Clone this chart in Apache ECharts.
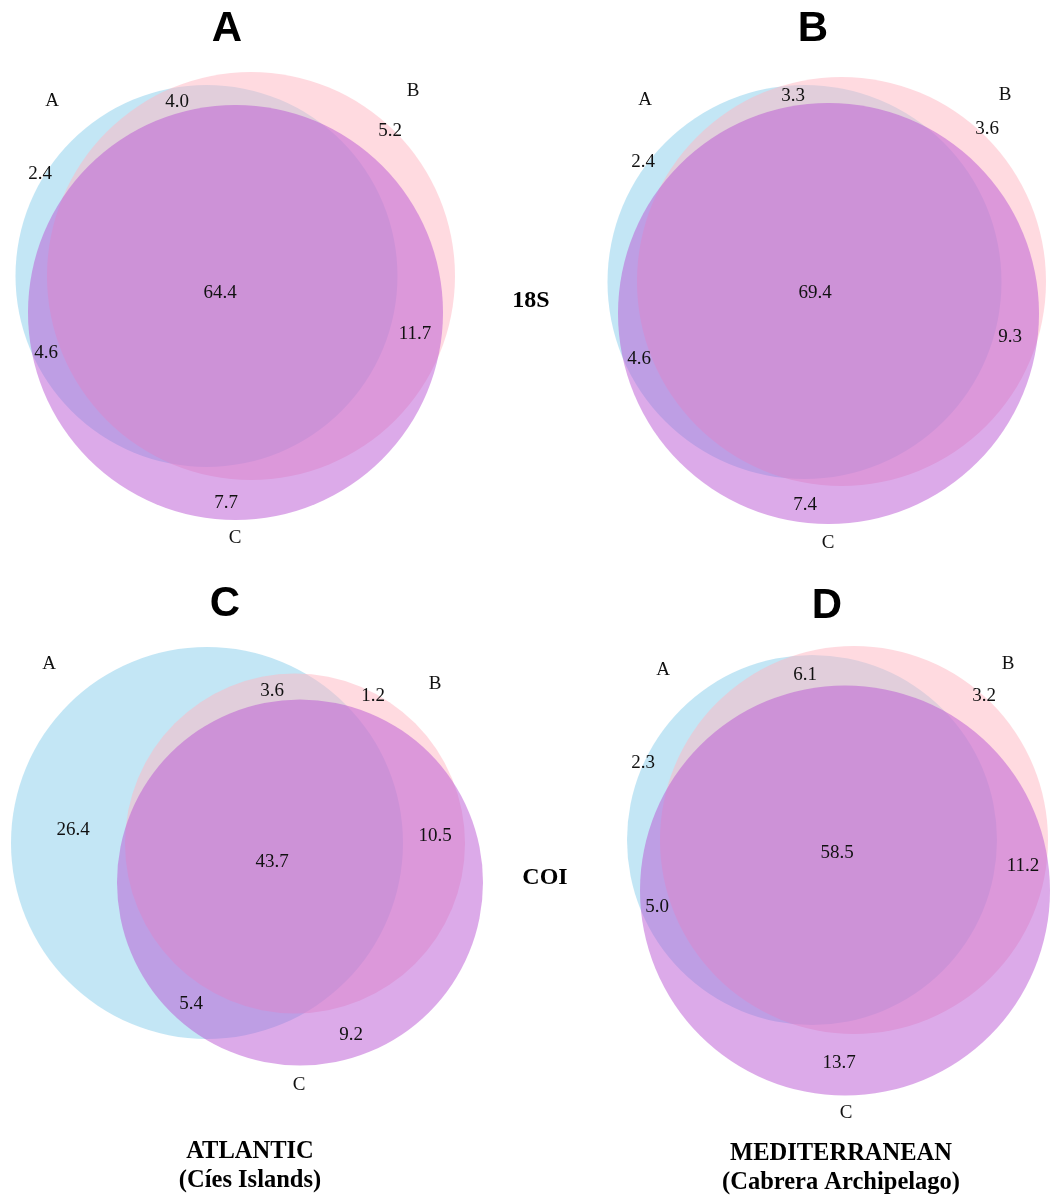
<!DOCTYPE html>
<html>
<head>
<meta charset="utf-8">
<script src="https://cdn.jsdelivr.net/npm/echarts@6/dist/echarts.min.js"></script>
<style>
html,body{margin:0;padding:0;background:#fff;}
#chart{width:1053px;height:1197px;}
</style>
</head>
<body>
<div id="chart"></div>
<script>
// ---------------- DATA ----------------
const panelTitles = ['A', 'B', 'C', 'D'];
const setNames = ['A', 'B', 'C'];
// region order: A only, B only, C only, A∩B, A∩C, B∩C, A∩B∩C  (percent)
const regionKeys = ['A', 'B', 'C', 'AB', 'AC', 'BC', 'ABC'];
const values18S_Atlantic = [2.4, 5.2, 7.7, 4.0, 4.6, 11.7, 64.4];
const values18S_Med      = [2.4, 3.6, 7.4, 3.3, 4.6, 9.3, 69.4];
const valuesCOI_Atlantic = [26.4, 1.2, 9.2, 3.6, 5.4, 10.5, 43.7];
const valuesCOI_Med      = [2.3, 3.2, 13.7, 6.1, 5.0, 11.2, 58.5];
const markerLabels = ['18S', 'COI'];
const regionTitles = [['ATLANTIC', '(Cíes Islands)'], ['MEDITERRANEAN', '(Cabrera Archipelago)']];

// ---------------- LAYOUT (page frame units) ----------------
const panelValues = [values18S_Atlantic, values18S_Med, valuesCOI_Atlantic, valuesCOI_Med];
// circle geometry per panel: [cx, cy, r] for sets A, B, C
const circleLayout = [
  [[206.5, 276, 191], [251, 276, 204], [235.5, 312.5, 207.5]],
  [[804.5, 282, 197], [841.5, 281.5, 204.5], [828.5, 313.5, 210.5]],
  [[207, 843, 196], [295, 843.5, 170], [300, 882.5, 183]],
  [[812, 840, 185], [854, 840, 194], [845, 890.5, 205]]
];
// set name label positions A, B, C
const setLabelPos = [
  [[52, 101], [413, 91], [235, 538]],
  [[645, 100], [1005, 95], [828, 543]],
  [[49, 664], [435, 684], [299, 1085]],
  [[663, 670], [1008, 664], [846, 1113]]
];
// region value label positions, same order as regionKeys
const regionLabelPos = [
  [[40, 174], [390, 131], [226, 503], [177, 102], [46, 353], [415, 334], [220, 293]],
  [[643, 162], [987, 129], [805, 505], [793, 96], [639, 359], [1010, 337], [815, 293]],
  [[73, 830], [373, 696], [351, 1035], [272, 691], [191, 1004], [435, 836], [272, 862]],
  [[643, 763], [984, 696], [839, 1063], [805, 675], [657, 907], [1023, 866], [837, 853]]
];
const titlePos = [[227, 29], [813, 29], [225, 604], [827, 606]];
const markerPos = [[531, 301], [545, 878]];
const regionTitlePos = [[250, 1166], [841, 1168]];
const setColors = ['rgba(135,206,235,0.5)', 'rgba(255,182,193,0.5)', 'rgba(186,85,211,0.5)'];

// text styles
const serif = '"Liberation Serif", "Times New Roman", serif';
const textStyles = {
  value: { font: '19px ' + serif, fill: '#111111', lh: 22 },
  set: { font: '19px ' + serif, fill: '#111111', lh: 22 },
  title: { font: 'bold 42px "Liberation Sans", Arial, sans-serif', fill: '#000000', lh: 46 },
  marker: { font: 'bold 24px ' + serif, fill: '#000000', lh: 28 },
  region: { font: 'bold 24.5px ' + serif, fill: '#000000', lh: 29 }
};

// ---------------- BUILD ----------------
const circleData = [];
circleLayout.forEach((panel, p) => {
  panel.forEach((c, s) => circleData.push([c[0], c[1], c[2], s]));
});
const textItems = []; // [x, y, text, styleKey]
panelValues.forEach((vals, p) => {
  vals.forEach((v, i) => {
    const pos = regionLabelPos[p][i];
    textItems.push([pos[0], pos[1], v.toFixed(1), 'value']);
  });
});
setLabelPos.forEach((panel) => {
  panel.forEach((pos, s) => textItems.push([pos[0], pos[1], setNames[s], 'set']));
});
panelTitles.forEach((t, i) => textItems.push([titlePos[i][0], titlePos[i][1], t, 'title']));
markerLabels.forEach((t, i) => textItems.push([markerPos[i][0], markerPos[i][1], t, 'marker']));
regionTitles.forEach((t, i) => textItems.push([regionTitlePos[i][0], regionTitlePos[i][1], t.join('\n'), 'region']));

const chart = echarts.init(document.getElementById('chart'), null, { renderer: 'canvas' });
chart.setOption({
  backgroundColor: '#ffffff',
  animation: false,
  grid: { left: 0, right: 0, top: 0, bottom: 0 },
  xAxis: { type: 'value', min: 0, max: 1053, show: false },
  yAxis: { type: 'value', min: 0, max: 1197, inverse: true, show: false },
  series: [
    {
      type: 'custom',
      coordinateSystem: 'cartesian2d',
      data: circleData,
      silent: true,
      renderItem: function (params, api) {
        const c = api.coord([api.value(0), api.value(1)]);
        const s = api.size([api.value(2), api.value(2)]);
        return {
          type: 'circle',
          shape: { cx: c[0], cy: c[1], r: s[0] },
          style: { fill: setColors[api.value(3)], stroke: null }
        };
      }
    },
    {
      type: 'custom',
      coordinateSystem: 'cartesian2d',
      data: textItems,
      silent: true,
      dimensions: ['x', 'y', { name: 'text', type: 'ordinal' }, { name: 'style', type: 'ordinal' }],
      renderItem: function (params, api) {
        const item = textItems[params.dataIndex];
        const c = api.coord([item[0], item[1]]);
        const st = textStyles[item[3]];
        return {
          type: 'text',
          style: {
            x: c[0], y: c[1], text: item[2], font: st.font, fill: st.fill,
            align: 'center', verticalAlign: 'middle', lineHeight: st.lh
          }
        };
      }
    }
  ]
});
</script>
</body>
</html>
